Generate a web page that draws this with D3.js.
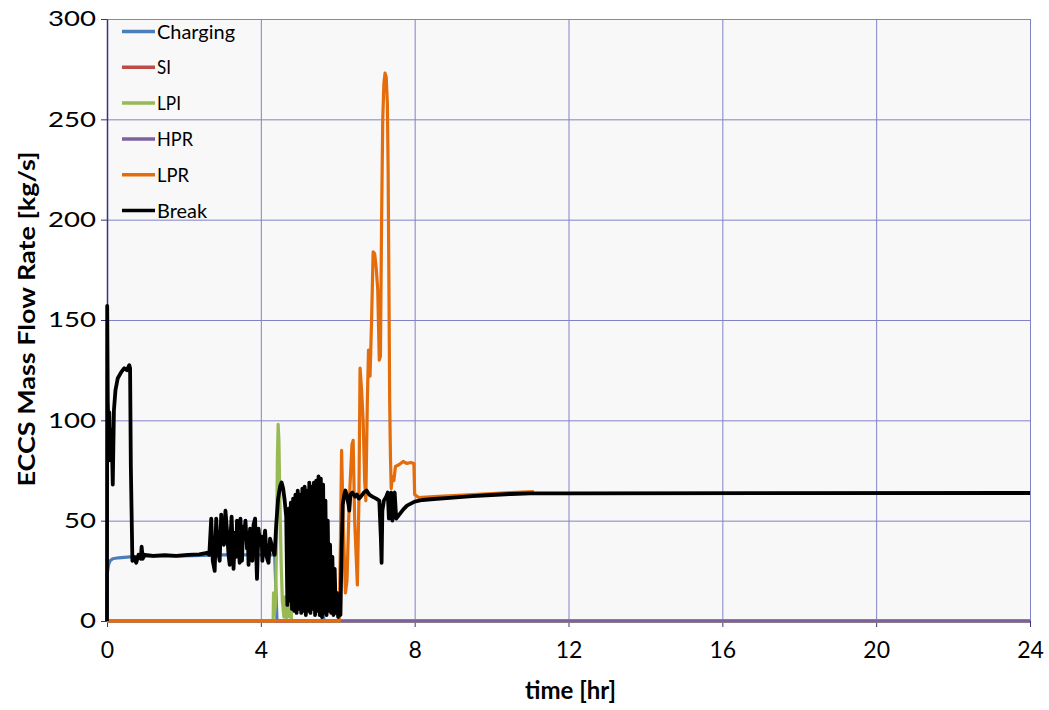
<!DOCTYPE html>
<html>
<head>
<meta charset="utf-8">
<script src="https://cdn.jsdelivr.net/npm/d3@7"></script>
<style>
body { margin: 0; background: #fff; }
text { font-family: Lato, "Open Sans", sans-serif; fill: #000; }
</style>
</head>
<body>
<div id="chart"></div>
<script>
// ticks
var xTicks = [0, 4, 8, 12, 16, 20, 24];
var yTicks = [0, 50, 100, 150, 200, 250, 300];

// series as [time hr, flow kg/s]
var charging = [[0,0],[0.01,24],[0.04,28],[0.08,30],[0.15,31],[0.3,31.5],[0.6,32],[1,32.3],
	[2,32.5],[3,33],[4,33],[4.36,33],[4.42,0],[5.6,0],[5.62,4],[5.64,0],[24,0]];
var si = [[0,0],[24,0]];
var lpi = [[0,0],[4.32,0],[4.33,14],[4.35,3],[4.38,8],[4.41,40],[4.43,80],[4.45,98],[4.47,90],
	[4.5,55],[4.53,28],[4.56,10],[4.6,2],[4.63,12],[4.66,1],[4.7,10],[4.74,2],[4.78,8],[4.8,0],[24,0]];
var hpr = [[0,0],[24,0]];
var lpr = [[0,0],[6.04,0],[6.07,40],[6.1,85],[6.14,50],[6.2,14],[6.24,20],[6.3,60],[6.37,88],
	[6.4,90],[6.44,50],[6.51,18],[6.55,60],[6.58,126],[6.62,115],[6.66,100],[6.7,70],[6.73,60],
	[6.77,110],[6.8,135],[6.84,122],[6.88,150],[6.92,184],[6.96,183],[7.0,176],[7.04,165],
	[7.08,130],[7.11,132],[7.14,200],[7.17,250],[7.2,268],[7.23,273],[7.26,271],[7.29,258],
	[7.31,225],[7.33,170],[7.35,110],[7.37,82],[7.39,66],[7.42,72],[7.46,70],[7.5,77],[7.6,78],
	[7.7,79.5],[7.8,78.5],[7.9,79],[7.98,78.5],[8.0,63],[8.1,61.5],[8.5,62],[9,62.5],[9.5,63],
	[10,63.5],[10.5,64],[11.1,64.5]];
var brk = [[0,0],[0.005,157],[0.02,110],[0.04,92],[0.06,104],[0.09,80],[0.12,95],[0.15,68],
	[0.18,105],[0.22,115],[0.28,121],[0.37,124],[0.45,126],[0.52,125],[0.58,127.5],[0.6,126],
	[0.62,77],[0.66,30],[0.7,32],[0.76,29],[0.82,33],[0.88,31],[0.9,37],[0.93,31],[0.98,33],
	[1.2,32.5],[1.5,32.8],[1.8,32.5],[2.1,33],[2.4,33.2],[2.6,34],
	[2.66,33],[2.71,51],[2.75,30],[2.8,25],[2.84,51],[2.88,36],[2.93,30],[2.97,53],[3.0,40],
	[3.04,38],[3.08,55],[3.12,45],[3.16,33],[3.19,28],[3.22,45],[3.24,52],[3.29,26],[3.33,44],
	[3.36,32],[3.38,50],[3.42,38],[3.45,29],[3.47,51],[3.51,30],[3.54,47],[3.56,42],[3.6,50],
	[3.64,36],[3.66,44],[3.68,28],[3.72,46],[3.76,38],[3.78,30],[3.81,48],[3.85,51],[3.9,21],
	[3.94,46],[3.98,38],[4.02,42],[4.04,30],[4.06,36],[4.11,45],[4.15,32],[4.2,29],
	[4.24,41],[4.28,38],[4.32,35],[4.36,33],[4.4,48],[4.45,61],[4.5,67],[4.54,69],[4.58,66],
	[4.62,60],[4.66,52],
	[4.69,8],[4.72,56],[4.75,10],[4.78,59],[4.81,6],[4.84,61],[4.87,5],[4.9,63],[4.93,4],
	[4.96,65],[4.99,6],[5.02,63],[5.05,4],[5.08,66],[5.11,5],[5.14,67],[5.17,3],[5.2,65],
	[5.23,5],[5.26,69],[5.29,4],[5.32,67],[5.35,6],[5.38,69],[5.41,3],[5.44,70],[5.47,5],
	[5.5,72],[5.53,3],[5.56,71],[5.59,2],[5.62,68],[5.65,4],[5.68,60],[5.71,3],[5.74,50],
	[5.77,5],[5.8,38],[5.83,4],[5.86,32],[5.89,3],[5.92,26],[5.95,4],[5.98,14],[6.01,2],
	[6.04,10],[6.07,3],[6.1,35],[6.13,58],[6.17,63],[6.2,65],[6.24,62],[6.28,58],[6.3,55],
	[6.33,63],[6.38,64],[6.45,62],[6.5,63],[6.55,61],[6.6,62],[6.68,64],[6.75,65],[6.82,63],
	[6.9,62],[7.0,61],[7.08,60],[7.12,42],[7.14,29],[7.16,55],[7.2,60],[7.26,62],[7.3,64],
	[7.33,51],[7.36,62],[7.39,64],[7.42,50],[7.45,63],[7.48,64],[7.52,51],[7.6,53],[7.7,55.5],
	[7.8,57.5],[7.9,58.5],[8.0,59.5],[8.2,60.3],[8.5,60.8],[9.0,61.5],[9.5,62.2],[10,62.8],
	[10.5,63.3],[11,63.6],[12,63.6],[24,63.8]];

var names = ["Charging", "SI", "LPI", "HPR", "LPR", "Break"];
var colors = ["#4a7ebb", "#be4b48", "#98b954", "#7d60a0", "#e46c0a", "#000000"];
var series = [charging, si, lpi, hpr, lpr, brk];

// layout
var W = 1049, H = 710;
var margin = {top: 19, right: 19, bottom: 89, left: 107},
	width = W - margin.left - margin.right,
	height = H - margin.top - margin.bottom;

var svg = d3.select("#chart").append("svg")
		.attr("width", W)
		.attr("height", H)
	.append("g")
		.attr("transform", "translate(" + margin.left + "," + margin.top + ")");

var x = d3.scaleLinear().domain([0, 24]).range([0, width]);
var y = d3.scaleLinear().domain([0, 300]).range([height, 0]);

// plot background
svg.append("rect")
	.attr("width", width)
	.attr("height", height)
	.attr("fill", "#f8f8f8");

// grid
svg.append("g")
	.attr("class", "grid")
	.call(d3.axisLeft(y).tickValues(yTicks).tickSize(-width).tickFormat(""));
svg.append("g")
	.attr("class", "grid")
	.attr("transform", "translate(0," + height + ")")
	.call(d3.axisBottom(x).tickValues(xTicks).tickSize(-height).tickFormat(""));
svg.selectAll(".grid .domain").remove();
svg.selectAll(".grid line")
	.attr("stroke", "#8282c8")
	.attr("stroke-width", 1);

// axes
var yAxis = svg.append("g")
	.call(d3.axisLeft(y).tickValues(yTicks).tickSizeInner(6).tickSizeOuter(0).tickPadding(5));
var xAxis = svg.append("g")
	.attr("transform", "translate(0," + height + ")")
	.call(d3.axisBottom(x).tickValues(xTicks).tickSizeInner(6).tickSizeOuter(0).tickPadding(15));
[yAxis, xAxis].forEach(function(a){
	a.select(".domain").attr("stroke", "#35357e").attr("stroke-width", 1.5);
	a.selectAll(".tick line").attr("stroke", "#35357e");
});
yAxis.selectAll("text")
	.style("font-size", "21px")
	.attr("textLength", function(d){ return String(d).length * 16; })
	.attr("lengthAdjust", "spacingAndGlyphs");
xAxis.selectAll("text")
	.style("font-size", "23px");

// lines
var line = d3.line()
	.x(function(d){ return x(d[0]); })
	.y(function(d){ return y(d[1]); });
series.forEach(function(s, i){
	svg.append("path")
		.datum(s)
		.attr("fill", "none")
		.attr("stroke", colors[i])
		.attr("stroke-width", i == 5 ? 3.8 : 3.2)
		.attr("stroke-linejoin", "round")
		.attr("d", line);
});

// legend
var legW = [78, 14, 24, 36, 32, 50];
var leg = svg.append("g").attr("transform", "translate(15,12.5)");
names.forEach(function(n, i){
	var g = leg.append("g").attr("transform", "translate(0," + (i * 35.8) + ")");
	g.append("line")
		.attr("x1", 0).attr("x2", 33)
		.attr("stroke", colors[i])
		.attr("stroke-width", 3.5);
	g.append("text")
		.attr("x", 35)
		.attr("y", 7)
		.style("font-size", "19px")
		.attr("textLength", legW[i])
		.attr("lengthAdjust", "spacingAndGlyphs")
		.text(n);
});

// axis titles
svg.append("text")
	.attr("x", width / 2 + 2)
	.attr("y", height + 78)
	.attr("text-anchor", "middle")
	.style("font-size", "24px")
	.style("font-weight", "bold")
	.text("time [hr]");
svg.append("text")
	.attr("transform", "translate(-72," + (height / 2 - 1) + ") rotate(-90)")
	.attr("text-anchor", "middle")
	.style("font-size", "23px")
	.style("font-weight", "bold")
	.attr("textLength", 335)
	.attr("lengthAdjust", "spacingAndGlyphs")
	.text("ECCS Mass Flow Rate [kg/s]");
</script>
</body>
</html>
